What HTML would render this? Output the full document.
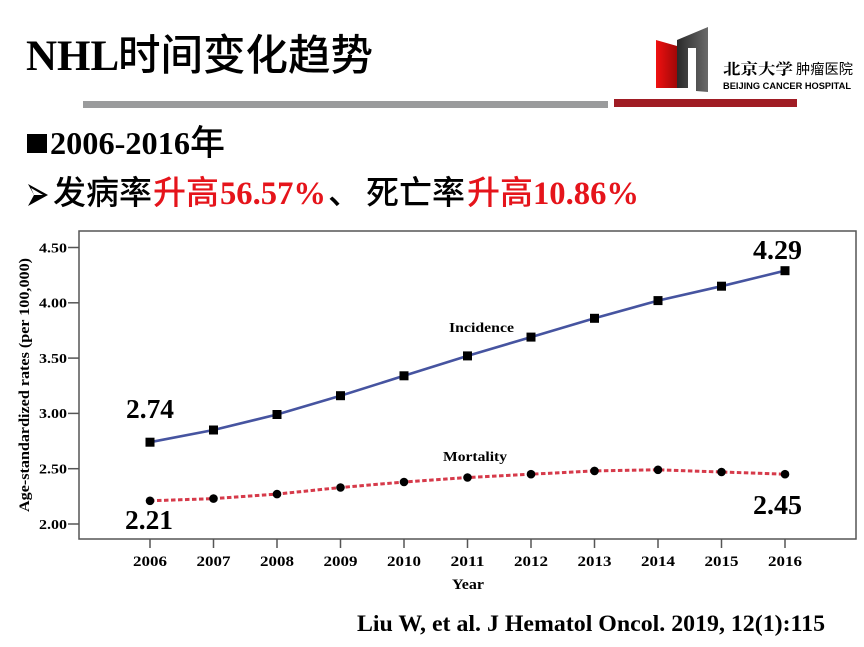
<!DOCTYPE html>
<html>
<head>
<meta charset="utf-8">
<style>
  html,body{margin:0;padding:0;background:#fff;}
  svg{display:block;}
  .tnr{font-family:"Liberation Serif","Noto Serif CJK SC",serif;font-weight:bold;}
  .cjk{font-family:"Liberation Sans","Noto Sans CJK SC",sans-serif;}
</style>
</head>
<body>
<svg width="864" height="647" viewBox="0 0 864 647" xmlns="http://www.w3.org/2000/svg">
  <defs>
    <linearGradient id="rg" x1="0" y1="0" x2="1" y2="0">
      <stop offset="0" stop-color="#f01010"/>
      <stop offset="1" stop-color="#a00808"/>
    </linearGradient>
    <linearGradient id="gg" x1="0" y1="0" x2="1" y2="0">
      <stop offset="0" stop-color="#2a2a2a"/>
      <stop offset="1" stop-color="#6a6a6a"/>
    </linearGradient>
  </defs>
  <rect width="864" height="647" fill="#fff"/>

  <!-- Title -->
  <text x="26" y="70" font-size="43"><tspan class="tnr">NHL</tspan><tspan class="cjk" font-weight="500" font-size="42.5" x="118">时间变化趋势</tspan></text>

  <!-- Bars -->
  <rect x="83" y="101" width="525" height="7" fill="#9a9b9c"/>
  <rect x="614" y="99" width="183" height="8" fill="#a01c24"/>

  <!-- Logo -->
  <polygon points="656,40 677,46 677,88 656,88" fill="url(#rg)"/>
  <polygon points="677,40 708,27 708,92 696,91 696,48 688,48 688,88 677,88" fill="url(#gg)"/>
  <text x="723" y="74" font-size="15" font-family="'Noto Serif CJK SC',serif" font-weight="bold" textLength="70" lengthAdjust="spacingAndGlyphs">北京大学</text>
  <text x="796" y="74" font-size="14" class="cjk" textLength="57" lengthAdjust="spacingAndGlyphs">肿瘤医院</text>
  <text x="723" y="89" font-size="9.5" font-family="'Liberation Sans',sans-serif" font-weight="bold" textLength="128" lengthAdjust="spacingAndGlyphs">BEIJING CANCER HOSPITAL</text>

  <!-- Line 2 -->
  <rect x="27" y="134" width="20" height="19" fill="#000"/>
  <text x="50" y="154" font-size="32" class="tnr" textLength="140" lengthAdjust="spacingAndGlyphs">2006-2016</text>
  <text x="190" y="155" font-size="35" class="cjk" font-weight="500">年</text>

  <!-- Line 3 -->
  <polygon points="28,184 48,195 28,206 34,195" fill="#000"/>
  <polygon points="31,188 43,195 34,195" fill="#fff"/>
  <text y="204" font-size="33" class="cjk" font-weight="500">
    <tspan x="53" fill="#000">发病率</tspan><tspan x="153" fill="#e5141b">升高</tspan>
  </text>
  <text x="220" y="204" font-size="33" class="tnr" fill="#e5141b" textLength="106" lengthAdjust="spacingAndGlyphs">56.57%</text>
  <text y="204" font-size="33" class="cjk" font-weight="500">
    <tspan x="328" fill="#000">、</tspan><tspan x="366" fill="#000">死亡率</tspan><tspan x="467" fill="#e5141b">升高</tspan>
  </text>
  <text x="533" y="204" font-size="33" class="tnr" fill="#e5141b" textLength="106" lengthAdjust="spacingAndGlyphs">10.86%</text>

  <!-- Chart frame -->
  <rect x="79" y="231" width="777" height="308" fill="none" stroke="#555" stroke-width="1.5"/>

  <!-- Y ticks -->
  <g stroke="#555" stroke-width="1.5">
    <line x1="68" y1="247.5" x2="79" y2="247.5"/>
    <line x1="68" y1="302.8" x2="79" y2="302.8"/>
    <line x1="68" y1="358.1" x2="79" y2="358.1"/>
    <line x1="68" y1="413.4" x2="79" y2="413.4"/>
    <line x1="68" y1="468.7" x2="79" y2="468.7"/>
    <line x1="68" y1="524" x2="79" y2="524"/>
  </g>
  <g class="tnr" font-size="14" text-anchor="end">
    <text x="67" y="252.3" textLength="28" lengthAdjust="spacingAndGlyphs">4.50</text>
    <text x="67" y="307.6" textLength="28" lengthAdjust="spacingAndGlyphs">4.00</text>
    <text x="67" y="362.9" textLength="28" lengthAdjust="spacingAndGlyphs">3.50</text>
    <text x="67" y="418.2" textLength="28" lengthAdjust="spacingAndGlyphs">3.00</text>
    <text x="67" y="473.5" textLength="28" lengthAdjust="spacingAndGlyphs">2.50</text>
    <text x="67" y="528.8" textLength="28" lengthAdjust="spacingAndGlyphs">2.00</text>
  </g>

  <!-- Y axis title -->
  <text transform="translate(29,385) rotate(-90)" text-anchor="middle" class="tnr" font-size="14.5" textLength="254" lengthAdjust="spacingAndGlyphs">Age-standardized rates (per 100,000)</text>

  <!-- X ticks -->
  <g stroke="#555" stroke-width="1.5">
    <line x1="150" y1="539" x2="150" y2="548"/>
    <line x1="213.5" y1="539" x2="213.5" y2="548"/>
    <line x1="277" y1="539" x2="277" y2="548"/>
    <line x1="340.5" y1="539" x2="340.5" y2="548"/>
    <line x1="404" y1="539" x2="404" y2="548"/>
    <line x1="467.5" y1="539" x2="467.5" y2="548"/>
    <line x1="531" y1="539" x2="531" y2="548"/>
    <line x1="594.5" y1="539" x2="594.5" y2="548"/>
    <line x1="658" y1="539" x2="658" y2="548"/>
    <line x1="721.5" y1="539" x2="721.5" y2="548"/>
    <line x1="785" y1="539" x2="785" y2="548"/>
  </g>
  <g class="tnr" font-size="14.5" text-anchor="middle">
    <text x="150" y="566" textLength="34" lengthAdjust="spacingAndGlyphs">2006</text>
    <text x="213.5" y="566" textLength="34" lengthAdjust="spacingAndGlyphs">2007</text>
    <text x="277" y="566" textLength="34" lengthAdjust="spacingAndGlyphs">2008</text>
    <text x="340.5" y="566" textLength="34" lengthAdjust="spacingAndGlyphs">2009</text>
    <text x="404" y="566" textLength="34" lengthAdjust="spacingAndGlyphs">2010</text>
    <text x="467.5" y="566" textLength="34" lengthAdjust="spacingAndGlyphs">2011</text>
    <text x="531" y="566" textLength="34" lengthAdjust="spacingAndGlyphs">2012</text>
    <text x="594.5" y="566" textLength="34" lengthAdjust="spacingAndGlyphs">2013</text>
    <text x="658" y="566" textLength="34" lengthAdjust="spacingAndGlyphs">2014</text>
    <text x="721.5" y="566" textLength="34" lengthAdjust="spacingAndGlyphs">2015</text>
    <text x="785" y="566" textLength="34" lengthAdjust="spacingAndGlyphs">2016</text>
  </g>
  <text x="468" y="589" class="tnr" font-size="15" text-anchor="middle" textLength="32" lengthAdjust="spacingAndGlyphs">Year</text>

  <!-- Incidence line -->
  <polyline fill="none" stroke="#4654a0" stroke-width="2.6" stroke-linejoin="round"
    points="150,442.2 213.5,430 277,414.5 340.5,395.7 404,375.8 467.5,355.9 531,337.1 594.5,318.3 658,300.6 721.5,286.2 785,270.7"/>
  <g fill="#000">
    <rect x="145.5" y="437.7" width="9" height="9"/>
    <rect x="209" y="425.5" width="9" height="9"/>
    <rect x="272.5" y="410" width="9" height="9"/>
    <rect x="336" y="391.2" width="9" height="9"/>
    <rect x="399.5" y="371.3" width="9" height="9"/>
    <rect x="463" y="351.4" width="9" height="9"/>
    <rect x="526.5" y="332.6" width="9" height="9"/>
    <rect x="590" y="313.8" width="9" height="9"/>
    <rect x="653.5" y="296.1" width="9" height="9"/>
    <rect x="717" y="281.7" width="9" height="9"/>
    <rect x="780.5" y="266.2" width="9" height="9"/>
  </g>

  <!-- Mortality line -->
  <polyline fill="none" stroke="#d63a4a" stroke-width="3" stroke-dasharray="4.5 2.5"
    points="150,500.8 213.5,498.6 277,494.1 340.5,487.5 404,482 467.5,477.5 531,474.2 594.5,470.9 658,469.8 721.5,472 785,474.2"/>
  <g fill="#000">
    <circle cx="150" cy="500.8" r="4.3"/>
    <circle cx="213.5" cy="498.6" r="4.3"/>
    <circle cx="277" cy="494.1" r="4.3"/>
    <circle cx="340.5" cy="487.5" r="4.3"/>
    <circle cx="404" cy="482" r="4.3"/>
    <circle cx="467.5" cy="477.5" r="4.3"/>
    <circle cx="531" cy="474.2" r="4.3"/>
    <circle cx="594.5" cy="470.9" r="4.3"/>
    <circle cx="658" cy="469.8" r="4.3"/>
    <circle cx="721.5" cy="472" r="4.3"/>
    <circle cx="785" cy="474.2" r="4.3"/>
  </g>

  <!-- Series labels -->
  <text x="449" y="332" class="tnr" font-size="14" textLength="65" lengthAdjust="spacingAndGlyphs">Incidence</text>
  <text x="443" y="461" class="tnr" font-size="14" textLength="64" lengthAdjust="spacingAndGlyphs">Mortality</text>

  <!-- Value labels -->
  <g class="tnr" font-size="27">
    <text x="126" y="418" textLength="48" lengthAdjust="spacingAndGlyphs">2.74</text>
    <text x="125" y="529" textLength="48" lengthAdjust="spacingAndGlyphs">2.21</text>
    <text x="753" y="259" textLength="49" lengthAdjust="spacingAndGlyphs">4.29</text>
    <text x="753" y="514" textLength="49" lengthAdjust="spacingAndGlyphs">2.45</text>
  </g>

  <!-- Citation -->
  <text x="357" y="631" class="tnr" font-size="23.5" textLength="468" lengthAdjust="spacingAndGlyphs">Liu W, et al. J Hematol Oncol. 2019, 12(1):115</text>
</svg>
</body>
</html>
